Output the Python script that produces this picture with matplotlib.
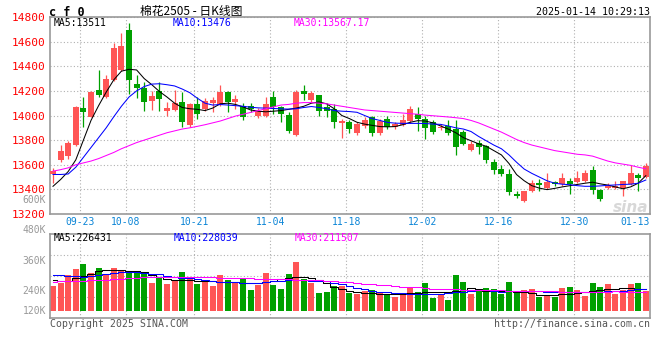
import matplotlib
matplotlib.use("Agg")
import matplotlib.pyplot as plt

# ---- data ----
date_labels = ["09-23", "10-08", "10-21", "11-04", "11-18", "12-02", "12-16", "12-30", "01-13"]
date_pos = [4, 10, 19, 29, 39, 49, 59, 69, 77]

opens = [13525, 13640, 13670, 13760, 14060, 13990, 14205, 14150, 14290, 14370,
         14695, 14255, 14220, 14120, 14200, 14040, 14045, 14110, 13920, 14090,
         14050, 14100, 14085, 14190, 14110, 14080, 14075, 14000, 13999, 14149,
         14067, 14000, 13843, 14198, 14122, 14163, 14067, 14054, 13939, 13944,
         13854, 13915, 13985, 13854, 13972, 13903, 13925, 13952, 14013, 13975,
         13950, 13900, 13915, 13888, 13862, 13720, 13780, 13753, 13625, 13562,
         13521, 13362, 13308, 13385, 13452, 13411, 13461, 13440, 13466, 13460,
         13466, 13558, 13393, 13408, 13410, 13411, 13440, 13519, 13499]
highs = [13575, 13760, 13790, 14080, 14150, 14195, 14370, 14330, 14590, 14670,
         14755, 14330, 14270, 14200, 14270, 14110, 14205, 14190, 14100, 14150,
         14145, 14150, 14245, 14195, 14165, 14100, 14100, 14060, 14150, 14200,
         14080, 14026, 14204, 14245, 14200, 14170, 14100, 14090, 13970, 13960,
         13950, 13990, 14000, 13970, 14000, 13950, 14010, 14080, 14070, 14000,
         13965, 13930, 13960, 13960, 13880, 13790, 13800, 13760, 13644, 13600,
         13565, 13385, 13390, 13475, 13488, 13535, 13470, 13535, 13495, 13552,
         13560, 13590, 13400, 13450, 13466, 13470, 13600, 13535, 13617]
lows = [13450, 13620, 13650, 13750, 13905, 13985, 14150, 14140, 14280, 14360,
        14175, 14140, 14040, 14045, 14040, 14000, 14040, 13910, 13910, 13970,
        14040, 14030, 14080, 14030, 14055, 13960, 14030, 13980, 13990, 14010,
        13944, 13854, 13835, 14122, 14110, 14000, 13990, 13900, 13821, 13860,
        13840, 13900, 13835, 13840, 13890, 13890, 13915, 13940, 13876, 13808,
        13850, 13880, 13840, 13683, 13760, 13715, 13685, 13617, 13521, 13510,
        13357, 13330, 13300, 13380, 13390, 13405, 13430, 13430, 13360, 13450,
        13460, 13365, 13308, 13405, 13405, 13350, 13435, 13390, 13495]
closes = [13550, 13710, 13780, 14070, 14025, 14190, 14170, 14300, 14545, 14565,
          14285, 14220, 14110, 14160, 14130, 14060, 14105, 13950, 14090, 14015,
          14120, 14125, 14190, 14110, 14130, 13985, 14050, 14040, 14093, 14067,
          14013, 13876, 14190, 14171, 14182, 14034, 14034, 13944, 13952, 13888,
          13931, 13964, 13854, 13952, 13903, 13931, 13960, 14054, 13972, 13900,
          13868, 13908, 13854, 13745, 13772, 13767, 13747, 13638, 13556, 13526,
          13379, 13343, 13385, 13452, 13433, 13461, 13440, 13494, 13444, 13490,
          13535, 13395, 13324, 13425, 13430, 13466, 13532, 13494, 13590]

ma5 = [13425, 13480, 13545, 13640, 13800, 13960, 14080, 14190, 14290, 14360,
       14375, 14370, 14300, 14250, 14195, 14150, 14100, 14065, 14055, 14050,
       14040, 14060, 14095, 14100, 14090, 14070, 14045, 14035, 14030, 14035,
       14040, 14050, 14060, 14075, 14100, 14110, 14095, 14055, 14000, 13975,
       13945, 13930, 13920, 13910, 13908, 13910, 13925, 13945, 13958, 13955,
       13940, 13915, 13890, 13860, 13820, 13795, 13770, 13750, 13715, 13680,
       13610, 13520, 13470, 13430, 13410, 13398, 13408, 13420, 13430, 13440,
       13450, 13458, 13445, 13435, 13420, 13405, 13420, 13450, 13511]
ma10 = [13521, 13521, 13525, 13580, 13660, 13740, 13820, 13900, 13990, 14075,
        14150, 14200, 14235, 14255, 14258, 14250, 14240, 14215, 14185, 14140,
        14100, 14085, 14089, 14085, 14080, 14075, 14067, 14062, 14060, 14057,
        14054, 14052, 14055, 14065, 14073, 14065, 14055, 14040, 14035, 14032,
        14026, 14000, 13975, 13960, 13944, 13938, 13936, 13936, 13936, 13935,
        13930, 13928, 13915, 13900, 13890, 13870, 13830, 13795, 13760, 13730,
        13680, 13620, 13565, 13530, 13500, 13470, 13450, 13442, 13438, 13430,
        13425, 13425, 13428, 13433, 13436, 13440, 13442, 13450, 13476]
ma30 = [13548, 13560, 13575, 13600, 13615, 13630, 13650, 13675, 13700, 13730,
        13755, 13780, 13800, 13820, 13840, 13860, 13875, 13890, 13900, 13912,
        13925, 13940, 13955, 13975, 13995, 14010, 14025, 14040, 14055, 14070,
        14085, 14090, 14100, 14105, 14105, 14100, 14095, 14085, 14075, 14065,
        14055, 14045, 14040, 14035, 14030, 14025, 14020, 14015, 14010, 14003,
        13998, 13993, 13988, 13982, 13975, 13960, 13940, 13915, 13890, 13865,
        13835, 13805, 13780, 13760, 13745, 13730, 13715, 13705, 13695, 13685,
        13680, 13670, 13650, 13630, 13615, 13605, 13595, 13580, 13567]

# volume in thousand lots
volumes = [240, 256, 293, 322, 346, 304, 326, 299, 326, 317,
           312, 306, 299, 256, 285, 250, 265, 307, 272, 250,
           269, 240, 293, 269, 261, 280, 221, 245, 302, 245,
           226, 298, 355, 274, 256, 208, 211, 240, 240, 208,
           202, 216, 221, 208, 202, 189, 200, 237, 213, 256,
           184, 200, 174, 293, 259, 202, 216, 230, 224, 202,
           259, 208, 221, 224, 189, 193, 187, 230, 235, 221,
           193, 254, 237, 250, 203, 221, 250, 254, 216]
vol_ma5 = [269, 263, 265, 280, 288, 300, 312, 316, 317, 316,
           314, 310, 305, 295, 285, 272, 269, 269, 268, 266,
           264, 262, 261, 261, 259, 255, 253, 255, 261, 266,
           272, 278, 283, 285, 280, 270, 255, 237, 225, 216,
           212, 208, 205, 202, 202, 202, 203, 205, 208, 210,
           210, 210, 212, 216, 222, 229, 224, 218, 217, 217,
           215, 213, 210, 205, 198, 197, 199, 200, 203, 205,
           210, 217, 220, 224, 226, 229, 229, 228, 226.4]
vol_ma10 = [293, 291, 289, 287, 285, 290, 295, 298, 302, 306,
            309, 308, 304, 300, 296, 290, 284, 279, 277, 273,
            268, 264, 261, 260, 258, 255, 253, 256, 260, 262,
            265, 268, 269, 267, 266, 265, 262, 256, 248, 240,
            232, 224, 217, 212, 210, 207, 205, 204, 203, 202,
            202, 203, 205, 210, 213, 217, 221, 219, 215, 213,
            214, 216, 217, 217, 215, 212, 210, 210, 210, 210,
            211, 212, 213, 215, 216, 218, 221, 224, 228]
vol_ma30 = [261, 262, 263, 265, 266, 267, 269, 270, 272, 275,
            278, 280, 281, 283, 284, 285, 285, 284, 284, 283,
            282, 281, 280, 279, 278, 277, 277, 276, 275, 274,
            273, 272, 271, 270, 269, 269, 265, 262, 260, 257,
            254, 252, 249, 246, 243, 240, 237, 235, 233, 230,
            228, 227, 225, 224, 223, 222, 221, 221, 220, 219,
            218, 217, 216, 216, 215, 214, 214, 213, 213, 213,
            213, 213, 213, 213, 214, 213.5, 213, 212, 211.5]

price_ticks = [13200, 13400, 13600, 13800, 14000, 14200, 14400, 14600, 14800]

RED = "#ff5555"
GREEN = "#00a000"
GRID = "#b0b0b0"
BORDER = "#999999"
MONO = "DejaVu Sans Mono"

W, H = 660, 360


def fx(px):
    return px / W


def fy(py):
    return 1 - py / H


fig = plt.figure(figsize=(6.6, 3.6), dpi=100)
fig.patch.set_facecolor("white")

n = len(closes)
xs = list(range(n))
body_w = 0.79
mid = [x + body_w / 2 for x in xs]
colors = [RED if c >= o else GREEN for o, c in zip(opens, closes)]
xmax = 600 / 7.6

# ---- price panel ----
ax = fig.add_axes([fx(50), fy(214), 600 / W, 197 / H])
ax.set_xlim(0, xmax)
ax.set_ylim(13200, 14800)

bottoms = [min(o, c) for o, c in zip(opens, closes)]
heights = [max(abs(c - o), 8) for o, c in zip(opens, closes)]
ax.vlines(mid, lows, highs, colors=colors, linewidth=0.9, zorder=2)
ax.bar(xs, heights, bottom=bottoms, width=body_w, align="edge",
       color=colors, linewidth=0, zorder=3)

ax.plot(mid, ma5, color="black", lw=0.75, zorder=4)
ax.plot(mid, ma10, color="#0000ff", lw=0.75, zorder=4)
ax.plot(mid, ma30, color="#ff00ff", lw=0.75, zorder=4)

ax.set_yticks(price_ticks)
ax.set_yticklabels([str(t) for t in price_ticks], color="#ff0000",
                   fontsize=8, family=MONO)
ax.tick_params(axis="y", length=0, pad=3)
ax.set_xticks(date_pos)
ax.set_xticklabels(date_labels, color="#0a84d6", fontsize=7, family=MONO)
ax.tick_params(axis="x", length=0, pad=2)
ax.grid(axis="y", color=GRID, linestyle=(0, (1, 2)), linewidth=0.8)
for p in date_pos[:-1]:
    ax.axvline(p, color=GRID, linestyle=(0, (1, 2)), linewidth=0.8, zorder=1)
for s in ax.spines.values():
    s.set_color(BORDER)
    s.set_linewidth(1.2)

# ---- volume panel ----
vlo, vhi = 86.4, 489.6
vax = fig.add_axes([fx(50), fy(318), 600 / W, 84 / H])
vax.set_xlim(0, xmax)
vax.set_ylim(vlo, vhi)
vax.bar(xs, [v - 120 for v in volumes], bottom=120, width=body_w, align="edge",
        color=colors, linewidth=0, zorder=2)
vax.plot(mid, vol_ma5, color="black", lw=0.75, drawstyle="steps-mid", zorder=3)
vax.plot(mid, vol_ma10, color="#0000ff", lw=0.75, drawstyle="steps-mid", zorder=3)
vax.plot(mid, vol_ma30, color="#ff00ff", lw=0.75, drawstyle="steps-mid", zorder=3)
vax.set_yticks([vlo + (vhi - vlo) * f for f in (0.25, 0.5, 0.75)])
vax.set_yticklabels([])
vax.set_xticks(date_pos[:-1])
vax.set_xticklabels([])
vax.tick_params(length=0)
vax.grid(color=GRID, linestyle=(0, (1, 2)), linewidth=0.8)
for s in vax.spines.values():
    s.set_color(BORDER)
    s.set_linewidth(1.2)

# ---- texts ----
fig.text(fx(49), fy(12), "c f 0", fontsize=8.5, fontweight="bold", family=MONO,
         va="center", ha="left")
fig.text(fx(140), fy(11), "棉花2505 - 日K线图", fontsize=8.5,
         family=["Noto Sans CJK SC", "DejaVu Sans"], va="center", ha="left")
fig.text(fx(650), fy(12), "2025-01-14 10:29:13", fontsize=7.2, family=MONO,
         va="center", ha="right")

fig.text(fx(54), fy(23), "MA5:13511", fontsize=7, family=MONO,
         va="center", ha="left", color="black")
fig.text(fx(173), fy(23), "MA10:13476", fontsize=7, family=MONO,
         va="center", ha="left", color="#0000ff")
fig.text(fx(294), fy(23), "MA30:13567.17", fontsize=7, family=MONO,
         va="center", ha="left", color="#ff00ff")

fig.text(fx(54), fy(238), "MA5:226431", fontsize=7, family=MONO,
         va="center", ha="left", color="black")
fig.text(fx(174), fy(238), "MA10:228039", fontsize=7, family=MONO,
         va="center", ha="left", color="#0000ff")
fig.text(fx(295), fy(238), "MA30:211507", fontsize=7, family=MONO,
         va="center", ha="left", color="#ff00ff")

for lab, py in [("600K", 200), ("480K", 230), ("360K", 261), ("240K", 291), ("120K", 311)]:
    fig.text(fx(46), fy(py), lab, fontsize=7, family=MONO, color="#999999",
             va="center", ha="right")

fig.text(fx(50), fy(324), "Copyright 2025 SINA.COM", fontsize=7.1, family=MONO,
         color="#555555", va="center", ha="left")
fig.text(fx(650), fy(324), "http://finance.sina.com.cn", fontsize=7.1, family=MONO,
         color="#555555", va="center", ha="right")
fig.text(fx(648), fy(208), "sina", fontsize=11, fontweight="bold", style="italic",
         color="#d8d8d8", va="center", ha="right", zorder=0)

fig.savefig("out.png", dpi=100, facecolor="white")
